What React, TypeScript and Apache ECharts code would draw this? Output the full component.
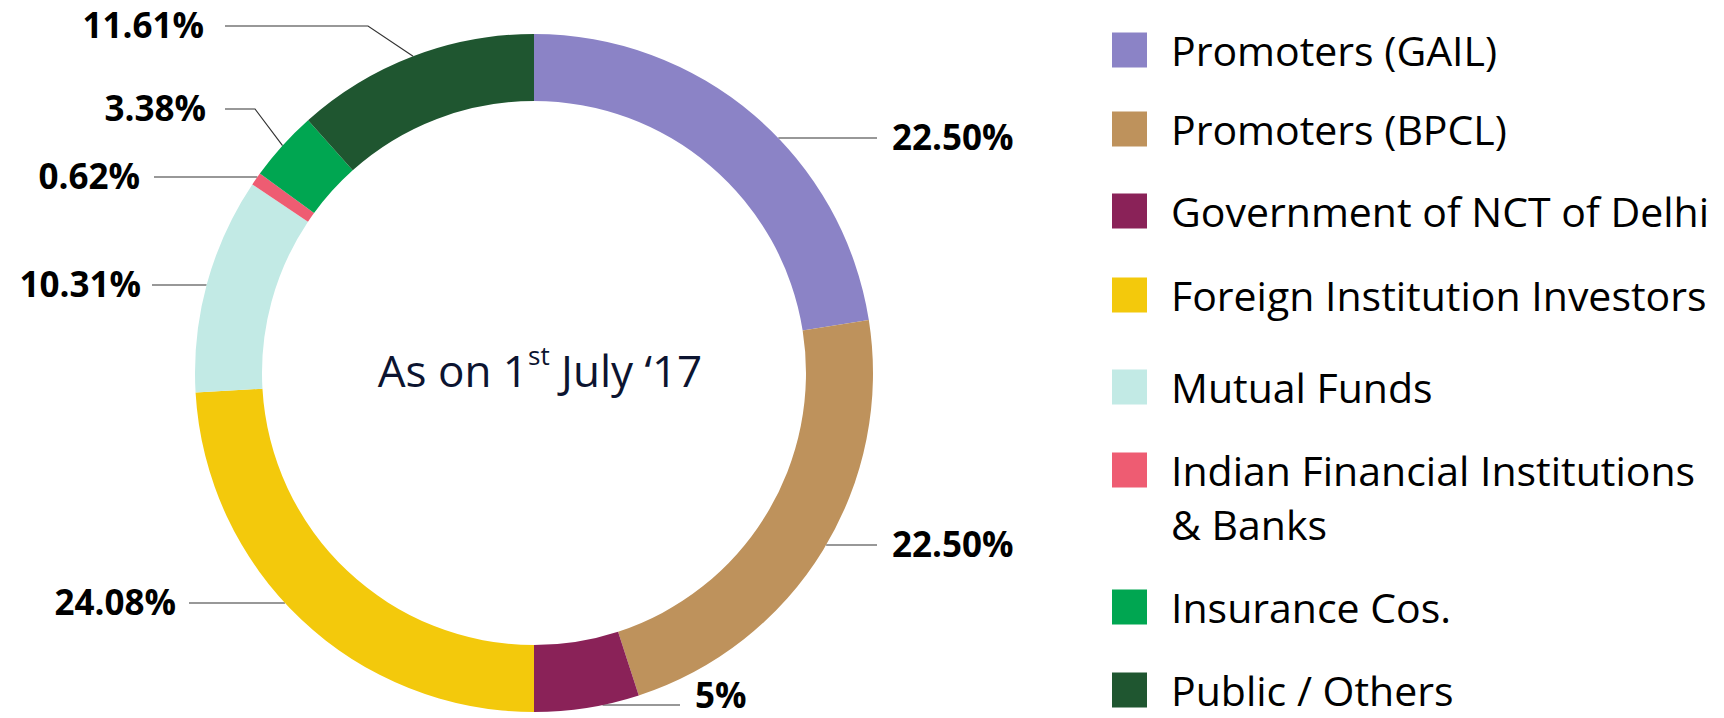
import React, { useEffect, useRef } from 'react';
import * as echarts from 'echarts';

// ---- data ----
const categories = [
  'Promoters (GAIL)',
  'Promoters (BPCL)',
  'Government of NCT of Delhi',
  'Foreign Institution Investors',
  'Mutual Funds',
  'Indian Financial Institutions & Banks',
  'Insurance Cos.',
  'Public / Others',
];
const shares = [22.5, 22.5, 5, 24.08, 10.31, 0.62, 3.38, 11.61];
const sliceColors = ['#8B83C6', '#BE925C', '#8A2258', '#F3C90C', '#C2EAE5', '#EE5C72', '#00A651', '#1F5630'];
const centerCaption = ['As on 1', 'st', ' July \u201817'];

// ---- annotation layout (not data) ----
const labelPlacement = [
  { textX: 892, lineEndX: 877, y: 138 },
  { textX: 892, lineEndX: 877, y: 545 },
  { textX: 695, lineEndX: 680, y: 705, textY: 694 },
  { textX: 176, lineEndX: 189, y: 603 },
  { textX: 141, lineEndX: 152, y: 285 },
  { textX: 140, lineEndX: 154, y: 177 },
  { textX: 206, lineEndX: 225, y: 109, elbowX: 255 },
  { textX: 204, lineEndX: 225, y: 26, elbowX: 368 },
];
const legendIconCenters = [50, 129, 211, 295, 387, 470, 607, 690];

const fmtPct = (v: number) => (Number.isInteger(v) ? `${v}%` : `${v.toFixed(2)}%`);

export default function App() {
  const ref = useRef<HTMLDivElement>(null);
  useEffect(() => {
    if (!ref.current) return;
    const chart = echarts.init(ref.current, null, { renderer: 'svg' });
    const CX = 534, CY = 373, R_IN = 272, R_OUT = 339;
    const total = shares.reduce((a, b) => a + b, 0);
    const midPoint = (idx: number) => {
      let cum = 0;
      for (let i = 0; i < idx; i++) cum += shares[i];
      const a = ((cum + shares[idx] / 2) / total) * Math.PI * 2;
      return [CX + R_OUT * Math.sin(a), CY - R_OUT * Math.cos(a)];
    };
    const ringX = (y: number, side: number) =>
      CX + side * Math.sqrt(Math.max(0, R_OUT * R_OUT - (y - CY) * (y - CY)));

    const wrapName = (name: string) =>
      name.includes(' & ') ? '\n' + name.replace(' & ', '\n& ') : name;

    const legends = categories.map((name, i) => {
      const lines = wrapName(name).split('\n').length;
      const lineH = i === categories.length - 1 ? 44 : 54;
      return {
        orient: 'vertical',
        left: 1112,
        top: legendIconCenters[i] - (lines * lineH) / 2,
        padding: 0,
        itemGap: 0,
        itemWidth: 35,
        itemHeight: 35,
        icon: 'rect',
        selectedMode: false,
        formatter: wrapName,
        textStyle: {
          fontFamily: 'Open Sans',
          fontSize: 41,
          color: '#000000',
          lineHeight: lineH,
          padding: [0, 0, 0, 19],
        },
        data: [name],
      };
    });

    chart.setOption({
      animation: false,
      color: sliceColors,
      legend: legends,
      graphic: [
        {
          type: 'text',
          x: 540,
          y: 370,
          style: {
            text: `{a|${centerCaption[0]}}{s|${centerCaption[1]}}{a|${centerCaption[2]}}`,
            align: 'center',
            verticalAlign: 'middle',
            rich: {
              a: { fontFamily: 'Open Sans', fontSize: 44, lineHeight: 56, fill: '#0C1430', color: '#0C1430' },
              s: { fontFamily: 'Open Sans', fontSize: 26, lineHeight: 57, verticalAlign: 'top', fill: '#0C1430', color: '#0C1430' },
            },
          },
        },
      ],
      series: [
        {
          type: 'pie',
          center: [CX, CY],
          radius: [R_IN, R_OUT],
          startAngle: 90,
          clockwise: true,
          avoidLabelOverlap: false,
          itemStyle: { borderWidth: 0 },
          emphasis: { disabled: true },
          label: {
            show: true,
            position: 'outside',
            fontFamily: 'Open Sans',
            fontWeight: 'bold',
            fontSize: 35,
            lineHeight: 32,
            color: '#000000',
            formatter: (p: any) => fmtPct(p.value),
          },
          labelLine: {
            show: true,
            length: 10,
            length2: 10,
            lineStyle: { color: '#333333', width: 1.2 },
          },
          labelLayout: (p: any) => {
            const pl: any = labelPlacement[p.dataIndex];
            const side = pl.textX > CX ? 1 : -1;
            let pts;
            if (pl.elbowX != null) {
              const s = midPoint(p.dataIndex);
              pts = [s, [pl.elbowX, pl.y], [pl.lineEndX, pl.y]];
            } else {
              const sx = ringX(pl.y, side);
              pts = [[sx, pl.y], [(sx + pl.lineEndX) / 2, pl.y], [pl.lineEndX, pl.y]];
            }
            return {
              x: pl.textX,
              y: pl.textY != null ? pl.textY : pl.y - 2,
              align: side > 0 ? 'left' : 'right',
              verticalAlign: 'middle',
              labelLinePoints: pts,
            };
          },
          data: categories.map((name, i) => ({ name, value: shares[i] })),
        },
      ],
    });
    return () => chart.dispose();
  }, []);
  return (
    <div
      ref={ref}
      style={{ position: 'absolute', left: 0, top: 0, width: 1724, height: 718, background: '#ffffff' }}
    />
  );
}
